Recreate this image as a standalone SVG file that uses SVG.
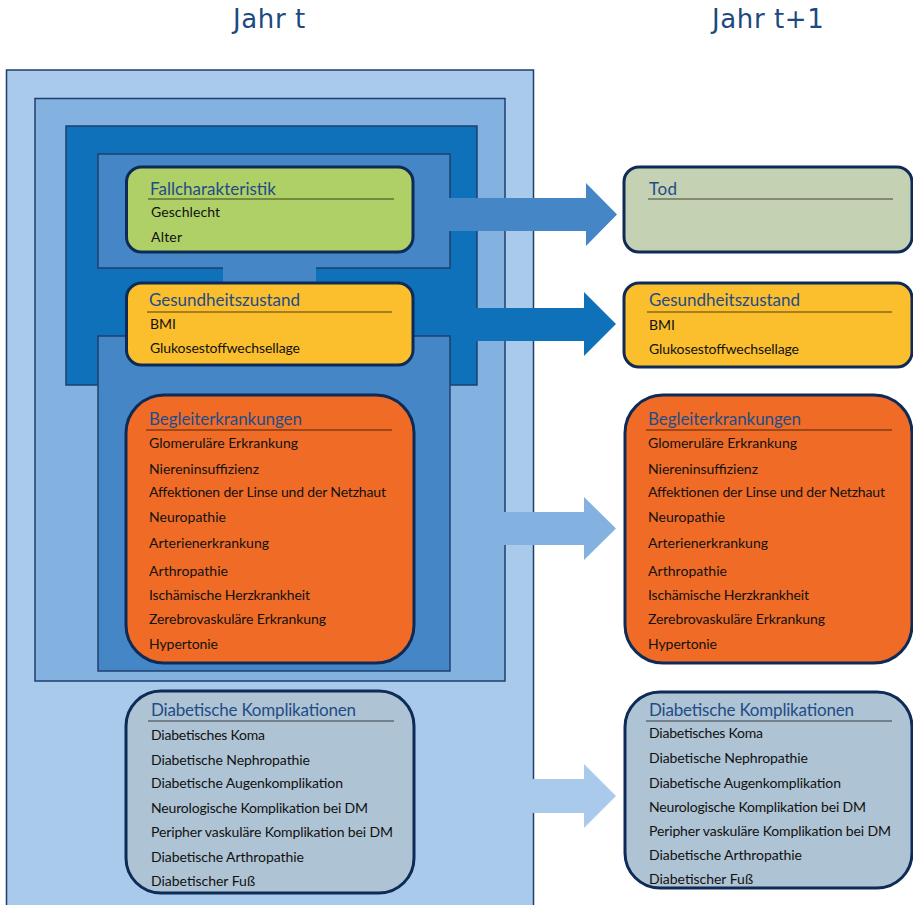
<svg xmlns="http://www.w3.org/2000/svg" width="913" height="905" viewBox="0 0 913 905">
  <style>
    .frame { stroke: #1E3F6E; stroke-width: 1.5; }
    .f1 { fill: #A9CAEB; }
    .f2 { fill: #84B2E0; }
    .f3 { fill: #0F71BA; }
    .f4 { fill: #4486C6; }
    .node { stroke: #0E2A56; stroke-width: 3; }
    .green { fill: #AFD066; }
    .yellow { fill: #FBBF2D; }
    .orange { fill: #F06C26; }
    .death { fill: #C5D1B3; }
    .compl { fill: #AEC3D3; }
    .head { font-family: "DejaVu Sans", Verdana, sans-serif; font-size: 26px; fill: #1B4A7F; letter-spacing: 0.6px; }
    .title { font-family: Lato, "Open Sans", sans-serif; font-size: 17px; fill: #1F4C87; }
    .item { font-family: Lato, "Open Sans", sans-serif; font-size: 14px; fill: #111; }
    .rule { stroke: #000; stroke-opacity: 0.45; stroke-width: 1.3; }
  </style>

  <!-- column headings -->
  <text class="head" x="233" y="28">Jahr t</text>
  <text class="head" x="712" y="28">Jahr t+1</text>

  <!-- nested frames of year t -->
  <g id="frames">
    <rect class="frame f1" x="6.5" y="70" width="527" height="850"/>
    <rect class="frame f2" x="35" y="98.5" width="470" height="582.5"/>
    <rect class="frame f3" x="66" y="126" width="411" height="259"/>
    <rect class="frame f4" x="98" y="154" width="352" height="114"/>
    <rect class="frame f4" x="98" y="336" width="352" height="335"/>
    <rect class="f4" x="223" y="266" width="93" height="20"/>
  </g>

  <!-- transition arrows -->
  <g id="connectors">
    <polygon class="f4" points="449,198 586,198 586,183 617,214.5 586,246 586,231 449,231"/>
    <polygon class="f3" points="476,308 584,308 584,292 616,324 584,356 584,341 476,341"/>
    <polygon class="f2" points="504,512 584,512 584,497 616,528.5 584,560 584,545 504,545"/>
    <polygon class="f1" points="532,779 584,779 584,764 616,796 584,828 584,813 532,813"/>
  </g>

  <!-- year t -->
  <g id="fall-t">
    <rect class="node green" x="126.5" y="167" width="286.5" height="85" rx="15"/>
    <text class="title" x="150" y="195" textLength="126">Fallcharakteristik</text>
    <line class="rule" x1="148" y1="199" x2="394" y2="199"/>
    <text class="item" x="151" y="217" textLength="69">Geschlecht</text>
    <text class="item" x="151" y="242" textLength="31">Alter</text>
  </g>

  <g id="gesundheit-t">
    <rect class="node yellow" x="126.5" y="283" width="286.5" height="82" rx="15"/>
    <text class="title" x="149" y="306" textLength="151">Gesundheitszustand</text>
    <line class="rule" x1="147" y1="312" x2="392" y2="312"/>
    <text class="item" x="150" y="329">BMI</text>
    <text class="item" x="150" y="353" textLength="150">Glukosestoffwechsellage</text>
  </g>

  <g id="begleit-t">
    <rect class="node orange" x="126" y="395" width="288" height="268" rx="38"/>
    <text class="title" x="149" y="425" textLength="153">Begleiterkrankungen</text>
    <line class="rule" x1="146" y1="430" x2="392" y2="430"/>
    <text class="item" x="149" y="448" textLength="149">Glomeruläre Erkrankung</text>
    <text class="item" x="149" y="474" textLength="110">Niereninsuffizienz</text>
    <text class="item" x="149" y="497" textLength="237">Affektionen der Linse und der Netzhaut</text>
    <text class="item" x="149" y="522" textLength="77">Neuropathie</text>
    <text class="item" x="149" y="548" textLength="120">Arterienerkrankung</text>
    <text class="item" x="149" y="576" textLength="79">Arthropathie</text>
    <text class="item" x="149" y="600" textLength="161">Ischämische Herzkrankheit</text>
    <text class="item" x="149" y="624" textLength="177">Zerebrovaskuläre Erkrankung</text>
    <text class="item" x="149" y="649" textLength="69">Hypertonie</text>
  </g>

  <g id="kompl-t">
    <rect class="node compl" x="126" y="691" width="288" height="202" rx="35"/>
    <text class="title" x="151" y="716" textLength="205">Diabetische Komplikationen</text>
    <line class="rule" x1="148" y1="721" x2="394" y2="721"/>
    <text class="item" x="151" y="740" textLength="114">Diabetisches Koma</text>
    <text class="item" x="151" y="765" textLength="159">Diabetische Nephropathie</text>
    <text class="item" x="151" y="788" textLength="192">Diabetische Augenkomplikation</text>
    <text class="item" x="151" y="813" textLength="217">Neurologische Komplikation bei DM</text>
    <text class="item" x="151" y="837" textLength="242">Peripher vaskuläre Komplikation bei DM</text>
    <text class="item" x="151" y="862" textLength="153">Diabetische Arthropathie</text>
    <text class="item" x="151" y="886" textLength="104">Diabetischer Fuß</text>
  </g>

  <!-- year t+1 -->
  <g id="tod-t1">
    <rect class="node death" x="624" y="167" width="288" height="85" rx="15"/>
    <text class="title" x="649" y="195" textLength="28">Tod</text>
    <line class="rule" x1="648" y1="199" x2="893" y2="199"/>
  </g>

  <g id="gesundheit-t1">
    <rect class="node yellow" x="624" y="283" width="288" height="84" rx="15"/>
    <text class="title" x="649" y="306" textLength="151">Gesundheitszustand</text>
    <line class="rule" x1="647" y1="312" x2="892" y2="312"/>
    <text class="item" x="649" y="330">BMI</text>
    <text class="item" x="649" y="354" textLength="150">Glukosestoffwechsellage</text>
  </g>

  <g id="begleit-t1">
    <rect class="node orange" x="625" y="395" width="287" height="268" rx="38"/>
    <text class="title" x="648" y="425" textLength="153">Begleiterkrankungen</text>
    <line class="rule" x1="646" y1="430" x2="892" y2="430"/>
    <text class="item" x="648" y="448" textLength="149">Glomeruläre Erkrankung</text>
    <text class="item" x="648" y="474" textLength="110">Niereninsuffizienz</text>
    <text class="item" x="648" y="497" textLength="237">Affektionen der Linse und der Netzhaut</text>
    <text class="item" x="648" y="522" textLength="77">Neuropathie</text>
    <text class="item" x="648" y="548" textLength="120">Arterienerkrankung</text>
    <text class="item" x="648" y="576" textLength="79">Arthropathie</text>
    <text class="item" x="648" y="600" textLength="161">Ischämische Herzkrankheit</text>
    <text class="item" x="648" y="624" textLength="177">Zerebrovaskuläre Erkrankung</text>
    <text class="item" x="648" y="649" textLength="69">Hypertonie</text>
  </g>

  <g id="kompl-t1">
    <rect class="node compl" x="625" y="692" width="287" height="196" rx="35"/>
    <text class="title" x="649" y="716" textLength="205">Diabetische Komplikationen</text>
    <line class="rule" x1="646" y1="721" x2="892" y2="721"/>
    <text class="item" x="649" y="738" textLength="114">Diabetisches Koma</text>
    <text class="item" x="649" y="763" textLength="159">Diabetische Nephropathie</text>
    <text class="item" x="649" y="788" textLength="192">Diabetische Augenkomplikation</text>
    <text class="item" x="649" y="812" textLength="217">Neurologische Komplikation bei DM</text>
    <text class="item" x="649" y="836" textLength="242">Peripher vaskuläre Komplikation bei DM</text>
    <text class="item" x="649" y="860" textLength="153">Diabetische Arthropathie</text>
    <text class="item" x="649" y="884" textLength="104">Diabetischer Fuß</text>
  </g>
</svg>
